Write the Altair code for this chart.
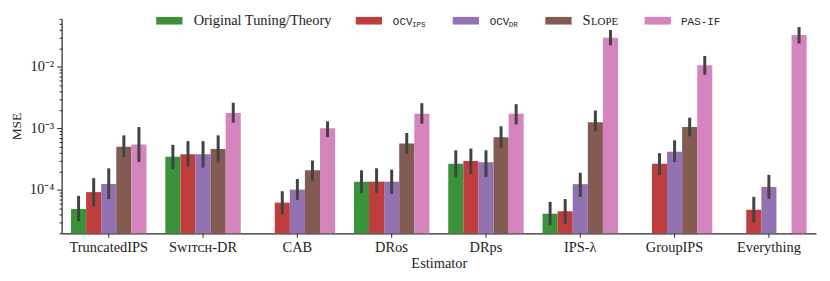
import altair as alt
import pandas as pd

categories = ["TruncatedIPS", "Sᴡɪᴛᴄʜ-DR", "CAB", "DRᴏꜱ", "DRps", "IPS-λ", "GroupIPS", "Everything"]
series = ["Original Tuning/Theory", "OCV_IPS", "OCV_DR", "SLOPE", "PAS-IF"]
colors = ["#3a923a", "#c03d3e", "#9372b2", "#845b53", "#d684bd"]

orig = [4.9e-5, 3.44e-4, None, 1.36e-4, 2.65e-4, 4.1e-5, None, None]
ocv_ips = [9.2e-5, 3.8e-4, 6.2e-5, 1.36e-4, 2.94e-4, 4.5e-5, 2.65e-4, 4.75e-5]
ocv_dr = [1.25e-4, 3.8e-4, 1.01e-4, 1.36e-4, 2.8e-4, 1.24e-4, 4.15e-4, 1.12e-4]
slope = [5.0e-4, 4.6e-4, 2.08e-4, 5.66e-4, 7.2e-4, 1.26e-3, 1.05e-3, None]
pasif = [5.46e-4, 1.77e-3, 1.0e-3, 1.73e-3, 1.73e-3, 0.0297, 0.0106, 0.0328]

orig_lo = [3.1e-5, 2.16e-4, None, 8.9e-5, 1.6e-4, 2.66e-5, None, None]
orig_hi = [8.0e-5, 5.4e-4, None, 2.08e-4, 4.4e-4, 6.4e-5, None, None]
ips_lo = [5.4e-5, 2.4e-4, 4.0e-5, 8.9e-5, 1.81e-4, 2.8e-5, 1.75e-4, 2.97e-5]
ips_hi = [1.55e-4, 6.2e-4, 9.5e-5, 2.24e-4, 4.7e-4, 7.1e-5, 3.95e-4, 7.7e-5]
dr_lo = [7.1e-5, 2.3e-4, 6.9e-5, 8.6e-5, 1.62e-4, 7.7e-5, 2.83e-4, 7.2e-5]
dr_hi = [2.24e-4, 6.2e-4, 1.5e-4, 2.13e-4, 4.4e-4, 1.9e-4, 6.4e-4, 1.75e-4]
slope_lo = [3.4e-4, 2.8e-4, 1.41e-4, 3.85e-4, 4.8e-4, 8.95e-4, 7.4e-4, None]
slope_hi = [7.7e-4, 7.7e-4, 3.0e-4, 8.4e-4, 1.08e-3, 1.95e-3, 1.49e-3, None]
pas_lo = [2.83e-4, 1.24e-3, 7.2e-4, 1.19e-3, 1.16e-3, 0.0224, 7.4e-3, 0.0238]
pas_hi = [1.05e-3, 2.6e-3, 1.3e-3, 2.56e-3, 2.47e-3, 0.0395, 0.0150, 0.0442]

y_min, y_max = 1.97e-5, 0.06
y_major = [1e-4, 1e-3, 1e-2]
y_minor = [m * 10.0 ** e for e in (-5, -4, -3, -2) for m in range(2, 10)]
y_ticks = [v for v in sorted(y_major + y_minor) if y_min <= v <= y_max]

means = [orig, ocv_ips, ocv_dr, slope, pasif]
lows = [orig_lo, ips_lo, dr_lo, slope_lo, pas_lo]
highs = [orig_hi, ips_hi, dr_hi, slope_hi, pas_hi]

rows = []
for s, m, lo, hi in zip(series, means, lows, highs):
    for c, v, l, h in zip(categories, m, lo, hi):
        if v is not None:
            rows.append({"estimator": c, "series": s, "mse": v, "lo": l, "hi": h, "base": y_min})
df = pd.DataFrame(rows)

SERIF = "Liberation Serif"
MONO = "Liberation Mono"
FS = 14.5
W, H = 760, 216

major_test = "abs(log(datum.value)/LN10 - round(log(datum.value)/LN10)) < 0.001"
label_expr = (f"({major_test}) ? '10' + "
              "({'-5':'⁻⁵','-4':'⁻⁴','-3':'⁻³','-2':'⁻²','-1':'⁻¹'})[''+round(log(datum.value)/LN10)] : ''")

xenc = alt.X("estimator:N", sort=categories,
             scale=alt.Scale(paddingInner=0.2, paddingOuter=0.1),
             axis=alt.Axis(title="Estimator", labelAngle=0, labelFont=SERIF, labelFontSize=FS,
                           titleFont=SERIF, titleFontSize=FS, titleFontWeight="normal",
                           tickSize=4, labelPadding=3, titlePadding=3))
xoff = alt.XOffset("series:N", sort=series, scale=alt.Scale(paddingInner=0, paddingOuter=0))
yscale = alt.Scale(type="log", domain=[y_min, y_max], nice=False)

bars = alt.Chart(df).mark_bar().encode(
    x=xenc,
    xOffset=xoff,
    y=alt.Y("mse:Q", scale=yscale,
            axis=alt.Axis(title="MSE", values=y_ticks, labelExpr=label_expr, labelOverlap=False,
                          labelFont=SERIF, labelFontSize=FS, titleFont=SERIF, titleFontSize=13.5,
                          titleFontWeight="normal", grid=False,
                          tickSize={"condition": {"test": major_test, "value": 5}, "value": 2.5},
                          labelPadding=3, titlePadding=6)),
    y2="base:Q",
    color=alt.Color("series:N", sort=series, scale=alt.Scale(domain=series, range=colors), legend=None),
)

errs = alt.Chart(df).mark_rule(color="#424242", strokeWidth=3).encode(
    x=alt.X("estimator:N", sort=categories), xOffset=xoff,
    y=alt.Y("lo:Q", scale=yscale), y2="hi:Q",
)

one = alt.Data(values=[{"k": 0}])

def swatch(x0, color):
    return alt.Chart(one).mark_rect(color=color).encode(
        x=alt.value(x0), x2=alt.value(x0 + 26.5), y=alt.value(-2), y2=alt.value(5.7))

def txt(x0, y0, s, font, size, baseline="alphabetic"):
    return alt.Chart(one).mark_text(text=s, align="left", baseline=baseline, font=font,
                                    fontSize=size, color="#222").encode(
        x=alt.value(x0), y=alt.value(y0))

legend_layers = [
    swatch(95.3, colors[0]), txt(133, 6.5, "Original Tuning/Theory", SERIF, FS),
    swatch(296.3, colors[1]), txt(333.7, 6.5, "OCV", MONO, 11), txt(353, 8.5, "IPS", MONO, 7.5),
    swatch(394, colors[2]), txt(431.3, 6.5, "OCV", MONO, 11), txt(450.5, 8.5, "DR", MONO, 7.5),
    swatch(487.3, colors[3]), txt(524.7, 6.5, "S", SERIF, FS), txt(533.2, 6.5, "LOPE", SERIF, 11),
    swatch(587.3, colors[4]), txt(624, 6.5, "PAS-IF", MONO, 11),
]

chart = alt.layer(bars, errs, *legend_layers).properties(
    width=W, height=H,
    autosize=alt.AutoSizeParams(type="none"),
    padding={"left": 54, "top": 10, "right": 6, "bottom": 40},
).configure_view(stroke=None).configure_axis(
    domainColor="#262626", domainWidth=1.2, tickColor="#262626", tickWidth=1,
    labelColor="#222", titleColor="#222",
)

chart.save("out.html", embed_options={"renderer": "svg", "actions": False})
